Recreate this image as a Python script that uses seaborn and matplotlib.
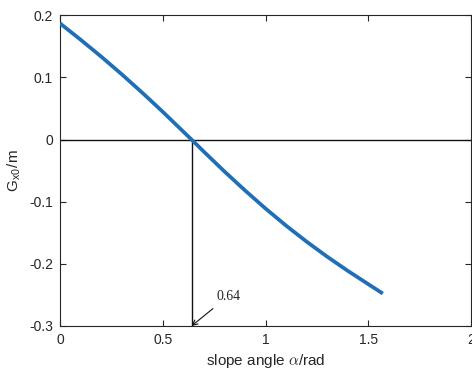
import matplotlib
matplotlib.use("Agg")
import matplotlib.pyplot as plt
import seaborn as sns
import pandas as pd

# data
alpha = [0.0, 0.1, 0.2, 0.3, 0.4, 0.5, 0.64, 0.7, 0.8, 0.9, 1.0, 1.1, 1.2, 1.3, 1.4, 1.5, 1.5708]
gx0 = [0.187, 0.1608, 0.1336, 0.1052, 0.0755, 0.0447, 0.0, -0.0195, -0.0513, -0.0818,
       -0.1110, -0.1385, -0.1643, -0.1885, -0.2112, -0.2327, -0.2478]
root_x = 0.64
root_label = "0.64"
xticks = [0, 0.5, 1, 1.5, 2]
xticklabels = ["0", "0.5", "1", "1.5", "2"]
yticks = [-0.3, -0.2, -0.1, 0, 0.1, 0.2]
yticklabels = ["-0.3", "-0.2", "-0.1", "0", "0.1", "0.2"]

sns.set_style("ticks")
plt.rcParams["font.family"] = ["Liberation Sans", "DejaVu Sans"]
plt.rcParams["mathtext.fontset"] = "cm"
plt.rcParams["mathtext.default"] = "it"

df = pd.DataFrame({"alpha": alpha, "gx0": gx0})

fig = plt.figure(figsize=(4.72, 3.72), dpi=100)
ax = fig.add_axes([0.1271, 0.1237, 0.8709, 0.8352])

ax.axhline(0, color="#111111", lw=1.0, zorder=1)
ax.plot([root_x, root_x], [0, -0.3], color="#111111", lw=1.0, zorder=1)

sns.lineplot(data=df, x="alpha", y="gx0", ax=ax, color="#1f6fb8", lw=2.7,
             sort=False, zorder=3, solid_capstyle="butt", solid_joinstyle="round")

ax.annotate(root_label, xy=(root_x, -0.3), xytext=(0.76, -0.252),
            fontsize=10, family="Liberation Serif", va="center", ha="left",
            arrowprops=dict(arrowstyle="->", color="#111111", lw=0.8,
                            shrinkA=3, shrinkB=0, mutation_scale=9))

ax.set_xlim(0, 2)
ax.set_ylim(-0.3, 0.2)
ax.set_xticks(xticks)
ax.set_xticklabels(xticklabels)
ax.set_yticks(yticks)
ax.set_yticklabels(yticklabels)
ax.tick_params(direction="in", length=4, width=0.8, top=True, right=True,
               labelsize=10, colors="#262626", labelcolor="#262626", pad=5)
for s in ax.spines.values():
    s.set_color("#262626")
    s.set_linewidth(0.8)

ax.set_xlabel(r"slope angle $\alpha$/rad", fontsize=11, color="#262626", labelpad=4)
ax.set_ylabel(r"G$_{\mathregular{x0}}$/m", fontsize=11, color="#262626", labelpad=4)

fig.savefig("out.png", dpi=100)
